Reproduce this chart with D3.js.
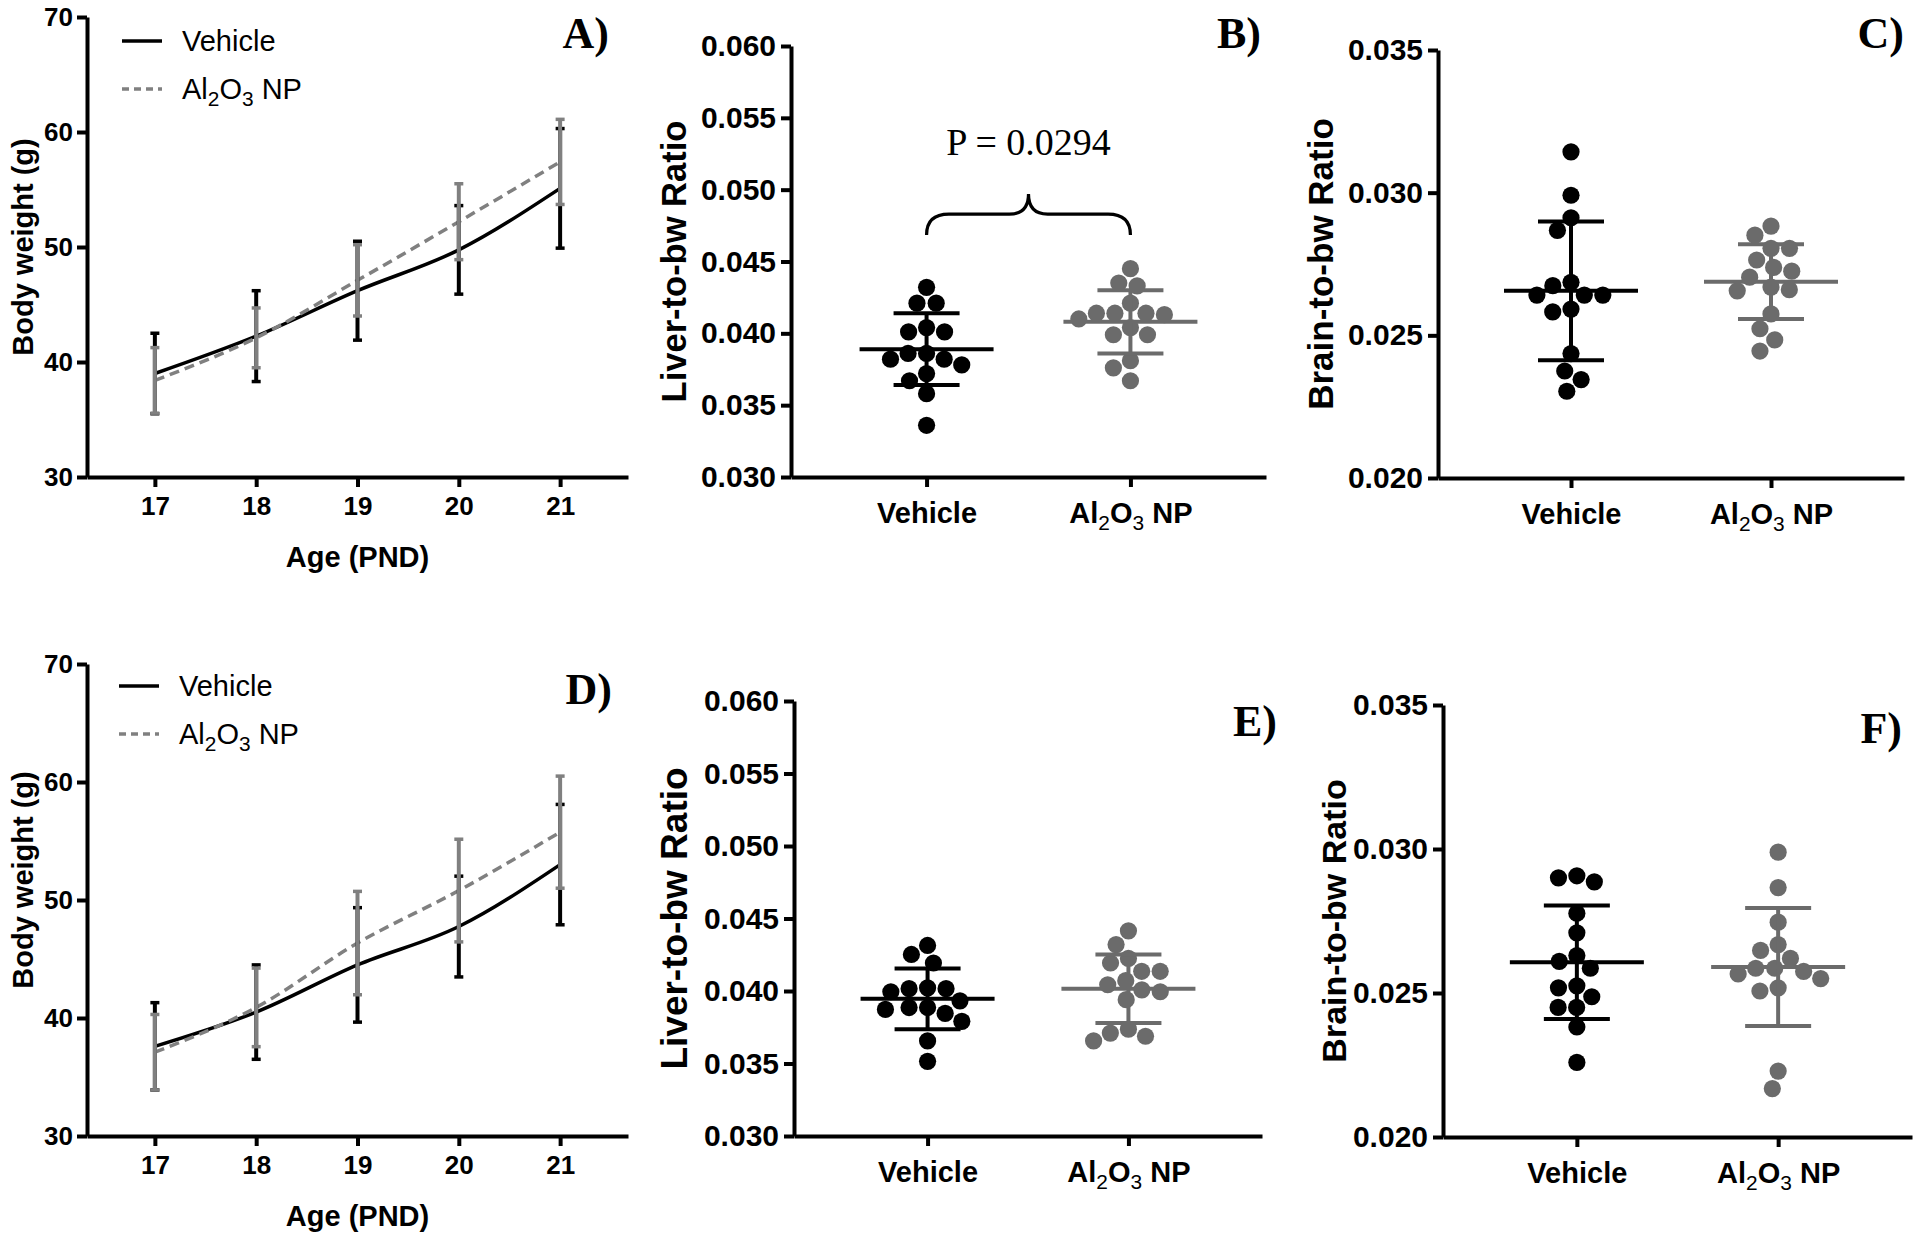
<!DOCTYPE html>
<html><head><meta charset="utf-8">
<script src="https://cdn.jsdelivr.net/npm/d3@7"></script>
<style>body{margin:0;background:#fff}svg{display:block}</style>
</head><body>
<script>
// ---------------- DATA ----------------
const days = [17, 18, 19, 20, 21];
const groups = ["Vehicle", "Al2O3 NP"];
const bwTicks = [30, 40, 50, 60, 70];
const liverTicks = [0.030, 0.035, 0.040, 0.045, 0.050, 0.055, 0.060];
const brainTicks = [0.020, 0.025, 0.030, 0.035];

// Panel A – body weight (mean, SD)
const aVehMean = [39.0, 42.25, 46.2, 49.75, 55.1];
const aVehSD   = [3.5, 3.95, 4.3, 3.85, 5.2];
const aAlMean  = [38.4, 42.1, 47.1, 52.2, 57.4];
const aAlSD    = [2.85, 2.6, 3.1, 3.3, 3.7];
// Panel D – body weight (mean, SD)
const dVehMean = [37.6, 40.5, 44.5, 47.75, 53.0];
const dVehSD   = [3.7, 4.0, 4.85, 4.27, 5.1];
const dAlMean  = [37.1, 40.9, 46.35, 50.8, 55.75];
const dAlSD    = [3.2, 3.33, 4.38, 4.35, 4.75];

// Panel B – liver-to-bw ratio
const bVeh = [0.0432, 0.0421, 0.0421, 0.0404, 0.0401, 0.0401, 0.0386, 0.0386, 0.0382, 0.0382, 0.0378, 0.0372, 0.0367, 0.0358, 0.0336];
const bAl  = [0.0445, 0.0435, 0.0433, 0.0421, 0.0414, 0.0414, 0.0414, 0.0413, 0.0410, 0.0404, 0.0399, 0.0399, 0.0381, 0.0376, 0.0367];
const bStats = {veh: [0.0389, 0.0025], al: [0.0408, 0.0022]};
// Panel C – brain-to-bw ratio
const cVeh = [0.03143, 0.02991, 0.02912, 0.02868, 0.02686, 0.02674, 0.02641, 0.02641, 0.02641, 0.02592, 0.02582, 0.02436, 0.02375, 0.02345, 0.02304];
const cAl  = [0.02883, 0.02851, 0.02805, 0.02805, 0.02764, 0.02738, 0.02725, 0.02704, 0.02669, 0.02656, 0.02660, 0.02575, 0.02523, 0.02484, 0.02445];
const cStats = {veh: [0.02656, 0.00243], al: [0.02688, 0.00131]};
// Panel E – liver-to-bw ratio
const eVeh = [0.04314, 0.04252, 0.04193, 0.04022, 0.04016, 0.04016, 0.03995, 0.03932, 0.03886, 0.03886, 0.03873, 0.03846, 0.03791, 0.03656, 0.03515];
const eAl  = [0.04415, 0.0432, 0.04225, 0.04193, 0.04136, 0.04136, 0.04071, 0.04043, 0.04008, 0.03995, 0.0394, 0.03737, 0.0371, 0.03688, 0.03656];
const eStats = {veh: [0.03946, 0.0021], al: [0.04016, 0.00236]};
// Panel F – brain-to-bw ratio
const fVeh = [0.02907, 0.02900, 0.02886, 0.02777, 0.02709, 0.0263, 0.02610, 0.02586, 0.02525, 0.02518, 0.02487, 0.0245, 0.0245, 0.02382, 0.02259];
const fAl  = [0.02989, 0.02866, 0.02746, 0.02668, 0.02648, 0.0262, 0.02586, 0.02586, 0.02575, 0.02566, 0.0255, 0.02518, 0.02507, 0.02229, 0.02168];
const fStats = {veh: [0.02607, 0.00197], al: [0.0259, 0.00205]};

const pText = "P = 0.0294";
const braceLevels = [0.04685, 0.0483, 0.0497]; // ends, shoulder, tip
const pLevel = 0.0524;

// ---------------- STYLE ----------------
const SANS = "'Liberation Sans', Arial, Helvetica, sans-serif";
const SERIF = "'Liberation Serif', 'Times New Roman', serif";
const BLACK = "#000";
const GREY_LINE = "#808080";
const GREY_DOT = "#6b6b6b";

const svg = d3.select("body").append("svg").attr("width", 1920).attr("height", 1237);
svg.append("rect").attr("width", 1920).attr("height", 1237).attr("fill", "#fff");

function alLabel(t, size) {
  t.append("tspan").text("Al");
  t.append("tspan").attr("font-size", size * 0.72).attr("font-weight", "normal").attr("dy", size * 0.25).text("2");
  t.append("tspan").attr("dy", -size * 0.25).text("O");
  t.append("tspan").attr("font-size", size * 0.72).attr("font-weight", "normal").attr("dy", size * 0.25).text("3");
  t.append("tspan").attr("dy", -size * 0.25).text(" NP");
}

function styleAxis(g, size) {
  g.select(".domain").attr("stroke", BLACK).attr("stroke-width", 4);
  g.selectAll(".tick line").attr("stroke", BLACK).attr("stroke-width", 4);
  g.selectAll(".tick text").attr("font-family", SANS).attr("font-weight", "bold")
    .attr("font-size", size).attr("fill", BLACK);
}

function panelLetter(txt, x, y) {
  svg.append("text").attr("x", x).attr("y", y).attr("text-anchor", "end")
    .attr("font-family", SERIF).attr("font-weight", "bold").attr("font-size", 44).text(txt);
}

function yTitle(txt, x, y, size) {
  svg.append("text").attr("transform", `translate(${x},${y}) rotate(-90)`)
    .attr("text-anchor", "middle").attr("font-family", SANS).attr("font-weight", "bold")
    .attr("font-size", size).text(txt);
}

// ---------------- LINE PANELS ----------------
function linePanel(cfg) {
  const x = d3.scaleLinear().domain([16.33, 21.67]).range([cfg.x0, cfg.x1]);
  const y = d3.scaleLinear().domain([30, 70]).range([cfg.yBot, cfg.yTop]);
  const g = svg.append("g");

  const series = [
    {mean: cfg.vehMean, sd: cfg.vehSD, color: BLACK, dash: null},
    {mean: cfg.alMean, sd: cfg.alSD, color: GREY_LINE, dash: "10,6"}
  ];
  series.forEach(s => {
    const line = d3.line().x((d, i) => x(days[i])).y(d => y(d)).curve(d3.curveMonotoneX);
    g.append("path").attr("d", line(s.mean)).attr("fill", "none").attr("stroke", s.color)
      .attr("stroke-width", 3.5).attr("stroke-dasharray", s.dash);
  });
  series.forEach(s => {
    s.mean.forEach((m, i) => {
      const cx = x(days[i]);
      g.append("line").attr("x1", cx).attr("x2", cx).attr("y1", y(m - s.sd[i])).attr("y2", y(m + s.sd[i]))
        .attr("stroke", s.color).attr("stroke-width", 4);
      [m - s.sd[i], m + s.sd[i]].forEach(v => {
        g.append("line").attr("x1", cx - 4.5).attr("x2", cx + 4.5).attr("y1", y(v)).attr("y2", y(v))
          .attr("stroke", s.color).attr("stroke-width", 3.5);
      });
    });
  });

  const ay = svg.append("g").attr("transform", `translate(${cfg.x0},0)`)
    .call(d3.axisLeft(y).tickValues(bwTicks).tickFormat(d3.format("d")).tickSize(10).tickSizeOuter(0).tickPadding(4));
  styleAxis(ay, 26);
  const ax = svg.append("g").attr("transform", `translate(0,${cfg.yBot})`)
    .call(d3.axisBottom(x).tickValues(days).tickFormat(d3.format("d")).tickSize(10).tickSizeOuter(0).tickPadding(10));
  styleAxis(ax, 26);

  svg.append("text").attr("x", x(19)).attr("y", cfg.yBot + 90).attr("text-anchor", "middle")
    .attr("font-family", SANS).attr("font-weight", "bold").attr("font-size", 29).text("Age (PND)");
  yTitle("Body weight (g)", 33, (cfg.yTop + cfg.yBot) / 2 + cfg.titleShift, 29);

  const lg = svg.append("g");
  lg.append("line").attr("x1", cfg.legX).attr("x2", cfg.legX + 40).attr("y1", cfg.legY).attr("y2", cfg.legY)
    .attr("stroke", BLACK).attr("stroke-width", 3.5);
  lg.append("text").attr("x", cfg.legX + 60).attr("y", cfg.legY + 10).attr("font-family", SANS)
    .attr("font-size", 29).text(groups[0]);
  lg.append("line").attr("x1", cfg.legX).attr("x2", cfg.legX + 40).attr("y1", cfg.legY + 48).attr("y2", cfg.legY + 48)
    .attr("stroke", GREY_LINE).attr("stroke-width", 3.5).attr("stroke-dasharray", "7,5");
  const t2 = lg.append("text").attr("x", cfg.legX + 60).attr("y", cfg.legY + 58).attr("font-family", SANS)
    .attr("font-size", 29);
  alLabel(t2, 29);

  panelLetter(cfg.letter, cfg.letterX, cfg.letterY);
}

// ---------------- SCATTER PANELS ----------------
function swarm(vals, yScale, D) {
  const pts = vals.map(v => ({v, y: yScale(v), x: 0})).sort((a, b) => a.y - b.y);
  const placed = [];
  pts.forEach(p => {
    const cands = [0];
    placed.forEach(q => {
      const dy = p.y - q.y;
      if (Math.abs(dy) < D) {
        const dx = Math.sqrt(D * D - dy * dy);
        cands.push(q.x + dx, q.x - dx);
      }
    });
    cands.sort((a, b) => Math.abs(a) - Math.abs(b) || a - b);
    for (const c of cands) {
      if (placed.every(q => (q.x - c) ** 2 + (q.y - p.y) ** 2 >= D * D - 0.01)) { p.x = c; break; }
    }
    placed.push(p);
  });
  return pts;
}

function scatterPanel(cfg) {
  const x = d3.scalePoint().domain(groups).range([cfg.x0, cfg.x1]).padding(0.665);
  const y = d3.scaleLinear().domain(cfg.domain).range([cfg.yBot, cfg.yTop]);
  const g = svg.append("g");
  const sets = [
    {vals: cfg.veh, stats: cfg.stats.veh, color: BLACK, group: groups[0]},
    {vals: cfg.al, stats: cfg.stats.al, color: GREY_DOT, group: groups[1]}
  ];
  sets.forEach(s => {
    const cx = x(s.group);
    swarm(s.vals, y, 18.5).forEach(p => {
      g.append("circle").attr("cx", cx + p.x).attr("cy", p.y).attr("r", 8.6).attr("fill", s.color);
    });
  });
  sets.forEach(s => {
    const cx = x(s.group);
    const [m, sd] = s.stats;
    g.append("line").attr("x1", cx).attr("x2", cx).attr("y1", y(m - sd)).attr("y2", y(m + sd))
      .attr("stroke", s.color).attr("stroke-width", 4);
    [m - sd, m + sd].forEach(v => g.append("line").attr("x1", cx - 33).attr("x2", cx + 33)
      .attr("y1", y(v)).attr("y2", y(v)).attr("stroke", s.color).attr("stroke-width", 4));
    g.append("line").attr("x1", cx - 67).attr("x2", cx + 67).attr("y1", y(m)).attr("y2", y(m))
      .attr("stroke", s.color).attr("stroke-width", 4);
  });

  const ay = svg.append("g").attr("transform", `translate(${cfg.x0},0)`)
    .call(d3.axisLeft(y).tickValues(cfg.ticks).tickFormat(d3.format(".3f")).tickSize(10).tickSizeOuter(0).tickPadding(5));
  styleAxis(ay, 30);
  const ax = svg.append("g").attr("transform", `translate(0,${cfg.yBot})`)
    .call(d3.axisBottom(x).tickSize(10).tickSizeOuter(0).tickPadding(15));
  styleAxis(ax, 29);
  ax.selectAll(".tick text").filter(d => d === groups[1]).each(function () {
    const t = d3.select(this); t.text(null); alLabel(t, 29);
  });

  yTitle(cfg.title, cfg.titleX, (cfg.yTop + cfg.yBot) / 2 + cfg.titleShift, cfg.titleSize);
  panelLetter(cfg.letter, cfg.letterX, cfg.letterY);

  if (cfg.brace) {
    const xa = x(groups[0]), xb = x(groups[1]), xm = (xa + xb) / 2;
    const [yEnd, yMid, yTip] = braceLevels.map(y);
    const r = 16;
    const path = d3.path();
    path.moveTo(xa, yEnd);
    path.quadraticCurveTo(xa, yMid, xa + r * 1.4, yMid);
    path.lineTo(xm - r * 1.2, yMid);
    path.quadraticCurveTo(xm, yMid, xm, yTip);
    path.quadraticCurveTo(xm, yMid, xm + r * 1.2, yMid);
    path.lineTo(xb - r * 1.4, yMid);
    path.quadraticCurveTo(xb, yMid, xb, yEnd);
    g.append("path").attr("d", path.toString()).attr("fill", "none").attr("stroke", BLACK).attr("stroke-width", 3.2);
    svg.append("text").attr("x", xm).attr("y", y(pLevel)).attr("text-anchor", "middle")
      .attr("font-family", SERIF).attr("font-size", 38).text(pText);
  }
}

linePanel({x0: 87, x1: 628, yTop: 17, yBot: 477, vehMean: aVehMean, vehSD: aVehSD, alMean: aAlMean, alSD: aAlSD,
  legX: 122, legY: 41, letter: "A)", letterX: 609, letterY: 48, titleShift: 0});
linePanel({x0: 87, x1: 628, yTop: 664, yBot: 1136, vehMean: dVehMean, vehSD: dVehSD, alMean: dAlMean, alSD: dAlSD,
  legX: 119, legY: 686, letter: "D)", letterX: 612, letterY: 704, titleShift: -20});

scatterPanel({x0: 791, x1: 1266, yTop: 46, yBot: 477, domain: [0.030, 0.060], ticks: liverTicks,
  veh: bVeh, al: bAl, stats: bStats, title: "Liver-to-bw Ratio", titleX: 686, titleShift: 0, titleSize: 34.5,
  letter: "B)", letterX: 1261, letterY: 48, brace: true});
scatterPanel({x0: 1438, x1: 1904, yTop: 50, yBot: 478, domain: [0.020, 0.035], ticks: brainTicks,
  veh: cVeh, al: cAl, stats: cStats, title: "Brain-to-bw Ratio", titleX: 1333, titleShift: 0, titleSize: 35,
  letter: "C)", letterX: 1904, letterY: 48});
scatterPanel({x0: 794, x1: 1262, yTop: 701, yBot: 1136, domain: [0.030, 0.060], ticks: liverTicks,
  veh: eVeh, al: eAl, stats: eStats, title: "Liver-to-bw Ratio", titleX: 687, titleShift: 0, titleSize: 37,
  letter: "E)", letterX: 1277, letterY: 736});
scatterPanel({x0: 1443, x1: 1912, yTop: 705, yBot: 1137, domain: [0.020, 0.035], ticks: brainTicks,
  veh: fVeh, al: fAl, stats: fStats, title: "Brain-to-bw Ratio", titleX: 1346, titleShift: 0, titleSize: 34,
  letter: "F)", letterX: 1902, letterY: 743});
</script>
</body></html>
